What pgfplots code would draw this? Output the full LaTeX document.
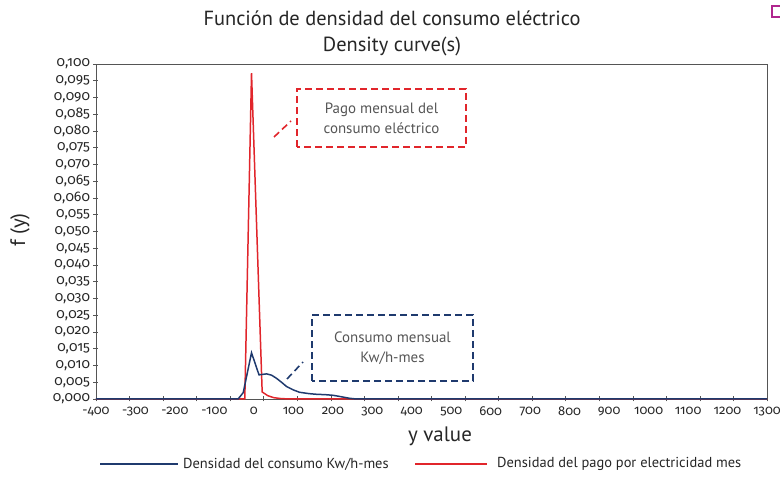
\documentclass[border=0pt]{standalone}
\usepackage{pgfplots}
\pgfplotsset{compat=1.18}
\usepackage{fontspec}
\setmainfont{PT Sans}
\newfontfamily\ticksfont[Numbers=OldStyle]{Fira Sans}
\definecolor{cblue}{HTML}{1F3A6E}
\definecolor{cred}{HTML}{E1252B}
\definecolor{ctext}{HTML}{262626}
\definecolor{cbox}{HTML}{555555}
\definecolor{caxis}{HTML}{555555}
\definecolor{cmag}{HTML}{B0268E}
\begin{document}
\begin{tikzpicture}[x=1bp,y=1bp]
\useasboundingbox (-96,-80) rectangle (684,399);
\begin{axis}[
  at={(0,0)}, anchor=south west,
  scale only axis, width=671bp, height=335bp,
  xmin=-400, xmax=1300, ymin=0, ymax=0.1,
  xtick={-400,-300,...,1300},
  minor xtick={-400,-315,...,1300},
  ytick={0,0.005,...,0.1001},
  axis line style={caxis, line width=0.8pt},
  tick style={caxis, line width=0.6pt},
  major tick length=5bp,
  minor tick length=5bp,
  major x tick style={draw=none},
  tick align=center,
  xtick pos=bottom, ytick pos=left,
  yticklabel={\ticksfont\pgfmathprintnumber[assume math mode=true, fixed, fixed zerofill, precision=3, use comma]{\tick}},
  xticklabel={\ticksfont\pgfmathprintnumber[assume math mode=true, 1000 sep={}]{\tick}},
  yticklabel style={font=\fontsize{14}{15}\selectfont, text=ctext},
  xticklabel style={font=\fontsize{13}{14}\selectfont, text=ctext, yshift=-2bp},
  scaled y ticks=false,
  clip=false,
]
\addplot[cred, line width=1.5pt] coordinates {
(-400,0) (-45,0) (-23,0) (-6,0.0973) (21,0.0021) (35,0.0010) (50,0.0004) (70,0.0001) (100,0) (1300,0)};
\addplot[cblue, line width=1.5pt] coordinates {
(-400,0) (-60,0) (-40,0) (-27,0.0019) (-6,0.0138) (13,0.0072) (32,0.0075) (45,0.0071) (57,0.0062) (70,0.0050) (83,0.0037) (100,0.0027) (116,0.0020) (140,0.0016) (159,0.0014) (180,0.0013) (201,0.0011) (220,0.0007) (243,0.0002) (260,0) (1300,0)};
\end{axis}
% titles
\node[text=ctext, font=\fontsize{20.5}{24}\selectfont] at (296,381) {Función de densidad del consumo eléctrico};
\node[text=ctext, font=\fontsize{20.5}{24}\selectfont] at (296,353) {Density curve(s)};
\node[text=ctext, font=\fontsize{21}{24}\selectfont, rotate=90] at (-76,169) {f (y)};
\node[text=ctext, font=\fontsize{21}{24}\selectfont] at (344,-37) {y value};
% annotations
\draw[cred, line width=1.6pt, dash pattern=on 7bp off 4bp] (201,252) rectangle (370,310);
\node[text=cbox, font=\fontsize{15}{20}\selectfont, align=center] at (285.5,281) {Pago mensual del\\consumo eléctrico};
\draw[cred, line width=1.6pt, dash pattern=on 7bp off 4bp] (178,262) -- (195,278);
\draw[cblue, line width=1.6pt, dash pattern=on 7bp off 4bp] (216,18) rectangle (377,84);
\node[text=cbox, font=\fontsize{15}{20}\selectfont, align=center] at (296.5,51) {Consumo mensual\\Kw/h-mes};
\draw[cblue, line width=1.6pt, dash pattern=on 7bp off 4bp] (191,20) -- (207,37);
% legend
\draw[cblue, line width=2pt] (4,-65) -- (82,-65);
\node[anchor=west, text=ctext, font=\fontsize{14.5}{16}\selectfont, inner sep=0pt] at (87,-65) {Densidad del consumo Kw/h-mes};
\draw[cred, line width=2pt] (319,-65) -- (391,-65);
\node[anchor=west, text=ctext, font=\fontsize{14.5}{16}\selectfont, inner sep=0pt] at (401,-65) {Densidad del pago por electricidad mes};
% corner mark
\draw[cmag, line width=2pt] (676,382) rectangle (690,393);
\end{tikzpicture}
\end{document}
